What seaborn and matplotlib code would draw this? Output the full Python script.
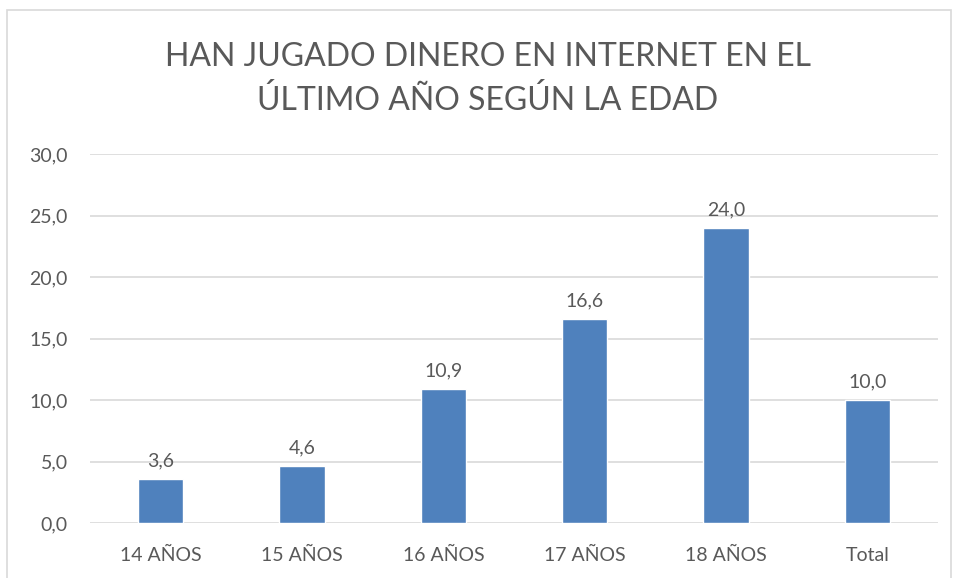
import matplotlib
matplotlib.use("Agg")
import matplotlib.pyplot as plt
import seaborn as sns
import pandas as pd
from matplotlib.patches import Rectangle

# Data
categories = ["14 AÑOS", "15 AÑOS", "16 AÑOS", "17 AÑOS", "18 AÑOS", "Total"]
values = [3.6, 4.6, 10.9, 16.6, 24.0, 10.0]
yticks = [0, 5, 10, 15, 20, 25, 30]

df = pd.DataFrame({"edad": categories, "pct": values})

sns.set_style("white")
plt.rcParams["font.family"] = ["Lato", "DejaVu Sans"]

text_color = "#595959"
grid_color = "#D9D9D9"
bar_color = "#4F81BD"

fig = plt.figure(figsize=(9.56, 5.78), dpi=100)
ax = fig.add_axes([90 / 956, 1 - 523 / 578, 848 / 956, (523 - 154) / 578])

sns.barplot(data=df, x="edad", y="pct", color=bar_color, saturation=1,
            width=0.32, ax=ax)

ax.set_ylim(0, 30)
ax.set_xlim(-0.5, len(categories) - 0.5)
ax.set_yticks(yticks)
ax.set_yticklabels([f"{t:.1f}".replace(".", ",") for t in yticks])
ax.yaxis.grid(True, color=grid_color, linewidth=1.2)
ax.set_axisbelow(True)
for s in ax.spines.values():
    s.set_visible(False)
ax.tick_params(axis="y", length=0, pad=16, labelsize=14, labelcolor=text_color)
ax.tick_params(axis="x", length=0, pad=17, labelsize=14, labelcolor=text_color)
ax.set_xlabel("")
ax.set_ylabel("")

labels = [f"{v:.1f}".replace(".", ",") for v in values]
ax.bar_label(ax.containers[0], labels=labels, padding=7, fontsize=14,
             color=text_color)

fig.text(488 / 956, 1 - 110 / 578,
         "HAN JUGADO DINERO EN INTERNET EN EL\nÚLTIMO AÑO SEGÚN LA EDAD",
         ha="center", va="baseline", fontsize=23, color=text_color,
         linespacing=1.5)

# chart area border
fig.patches.append(Rectangle((7 / 956, -0.05), 944 / 956, 1 - 10 / 578 + 0.05,
                             transform=fig.transFigure, fill=False,
                             edgecolor=grid_color, linewidth=1.2))

fig.savefig("out.png", dpi=100)
